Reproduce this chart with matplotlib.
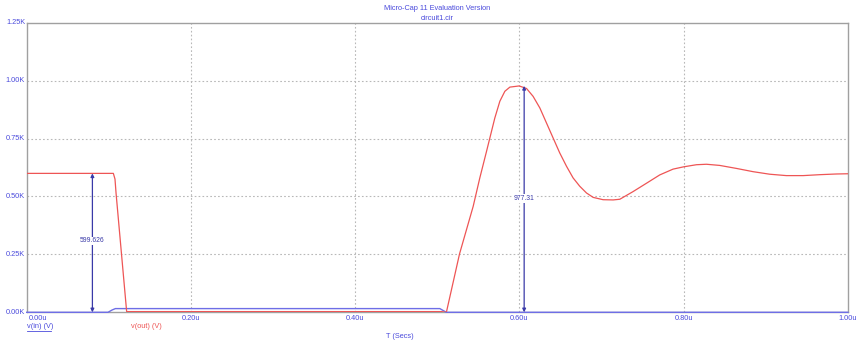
import matplotlib
matplotlib.use("Agg")
import matplotlib.pyplot as plt

# ---- data (time in microseconds, voltage in kV) ----
t_out = [0.0, 0.1055, 0.1075, 0.1088, 0.1217, 0.2, 0.3, 0.4, 0.505, 0.511,
         0.527, 0.5436, 0.5517, 0.5599, 0.5639, 0.570, 0.5761, 0.5822, 0.5883,
         0.5996, 0.6086, 0.6166, 0.6248, 0.6329, 0.641, 0.649, 0.6573, 0.6653,
         0.6734, 0.6816, 0.6897, 0.7018, 0.714, 0.7222, 0.7383, 0.7546, 0.7708,
         0.787, 0.800, 0.8155, 0.8277, 0.8438, 0.8642, 0.8844, 0.9047, 0.925,
         0.9453, 0.9656, 0.9859, 1.0]
v_out = [0.5996, 0.5996, 0.575, 0.514, 0.003, 0.003, 0.003, 0.003, 0.003, 0.0,
         0.252, 0.457, 0.580, 0.695, 0.752, 0.839, 0.911, 0.954, 0.972,
         0.977, 0.966, 0.932, 0.882, 0.817, 0.752, 0.688, 0.630, 0.580,
         0.544, 0.515, 0.496, 0.486, 0.485, 0.488, 0.521, 0.557, 0.593,
         0.618, 0.628, 0.637, 0.639, 0.634, 0.621, 0.607, 0.596, 0.590,
         0.590, 0.594, 0.597, 0.598]

t_in = [0.0, 0.099, 0.104, 0.108, 0.503, 0.511, 1.0]
v_in = [0.0, 0.0, 0.010, 0.016, 0.016, 0.0, 0.0]

x_ticks = [0.0, 0.2, 0.4, 0.6, 0.8, 1.0]
x_tick_labels = ["0.00u", "0.20u", "0.40u", "0.60u", "0.80u", "1.00u"]
y_ticks = [0.0, 0.25, 0.50, 0.75, 1.00, 1.25]
y_tick_labels = ["0.00K", "0.25K", "0.50K", "0.75K", "1.00K", "1.25K"]

meas_t = [0.080, 0.6057]
meas_v = [0.599626, 0.97731]
meas_labels = ["599.626", "977.31"]
meas_label_y = [0.308, 0.49]

TXT = "#4a4adc"
RED = "#ee5555"
BLUE = "#6e6ee6"
ARR = "#3a3aa8"
FONT = "Liberation Sans"
FS = 5.3

fig = plt.figure(figsize=(8.62, 3.44), dpi=100)
ax = fig.add_axes([26.7 / 862, 1 - 312.3 / 344, (848 - 26.7) / 862, (312.3 - 22.7) / 344])

ax.set_xlim(0, 1.0)
ax.set_ylim(0, 1.25)

for x in x_ticks[1:-1]:
    ax.axvline(x, color="#b8b8b8", lw=0.8, ls=(0, (1.5, 2)), zorder=1)
for y in y_ticks[1:-1]:
    ax.axhline(y, color="#b8b8b8", lw=0.8, ls=(0, (1.5, 2)), zorder=1)

ax.plot(t_in, v_in, color=BLUE, lw=1.0, zorder=3, clip_on=False)
ax.plot(t_out, v_out, color=RED, lw=0.9, zorder=4)

for tm, vm, lab, ly in zip(meas_t, meas_v, meas_labels, meas_label_y):
    ax.annotate("", xy=(tm, vm), xytext=(tm, 0.0),
                arrowprops=dict(arrowstyle="<|-|>", color=ARR, lw=0.9,
                                shrinkA=0, shrinkB=0, mutation_scale=5),
                zorder=5)
    ax.text(tm, ly, lab, ha="center", va="center", fontsize=FS - 0.4,
            color=ARR, family=FONT, zorder=6,
            bbox=dict(facecolor="white", edgecolor="none", pad=0.6))

for s in ["left", "top", "right", "bottom"]:
    ax.spines[s].set_color("#a0a0a0")
    ax.spines[s].set_linewidth(1.0)

ax.set_xticks([])
ax.set_yticks([])

# tick labels
for x, lab in zip(x_ticks, x_tick_labels):
    ha = "left" if x == 0 else "center"
    ax.text(x + (0.002 if x == 0 else 0), -0.012, lab, ha=ha, va="top",
            fontsize=FS, color=TXT, family=FONT, transform=ax.transData, clip_on=False)
for y, lab in zip(y_ticks, y_tick_labels):
    ax.text(-0.002, y, lab, ha="right", va="center", fontsize=FS, color=TXT,
            family=FONT, clip_on=False)

fig.text(437 / 862, 1 - 8 / 344, "Micro-Cap 11 Evaluation Version", ha="center",
         va="center", fontsize=FS, color=TXT, family=FONT)
fig.text(437 / 862, 1 - 18 / 344, "circuit1.cir", ha="center", va="center",
         fontsize=FS, color=TXT, family=FONT)
fig.text(400 / 862, 1 - 337 / 344, "T (Secs)", ha="center", va="center",
         fontsize=FS, color=TXT, family=FONT)
fig.text(26.7 / 862, 1 - 327 / 344, "v(in) (V)", ha="left", va="center",
         fontsize=FS, color=TXT, family=FONT)
fig.add_artist(plt.Line2D([26.7 / 862, 51.5 / 862], [1 - 331 / 344, 1 - 331 / 344],
                          color=TXT, lw=0.6))
fig.text(131 / 862, 1 - 327 / 344, "v(out) (V)", ha="left", va="center",
         fontsize=FS, color=RED, family=FONT)

fig.savefig("out.png", dpi=100)
